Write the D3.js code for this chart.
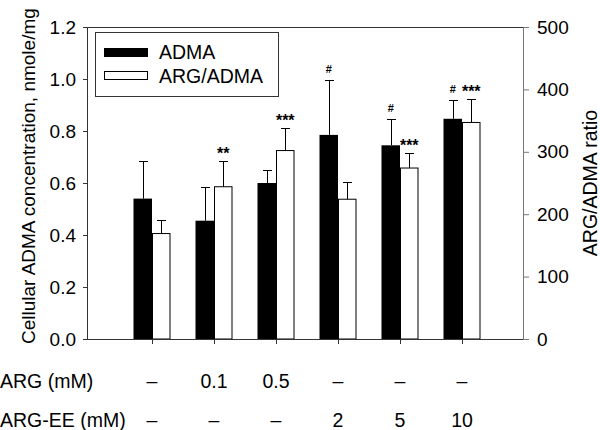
<!DOCTYPE html>
<html>
<head>
<meta charset="utf-8">
<script src="https://cdn.jsdelivr.net/npm/d3@7"></script>
<style>
  body { margin: 0; background: #fff; }
  svg { display: block; }
  text { font-family: "Liberation Sans", Arial, sans-serif; fill: #000; }
</style>
</head>
<body>
<svg id="chart" width="600" height="430"></svg>
<script>
// ---- data ----
const categories = ["Control", "ARG 0.1", "ARG 0.5", "ARG-EE 2", "ARG-EE 5", "ARG-EE 10"];
const admaMean = [0.54, 0.455, 0.60, 0.785, 0.745, 0.847];
const admaErr  = [0.145, 0.13, 0.05, 0.21, 0.10, 0.073];
const ratioMean = [169, 244, 302, 224, 274, 347];
const ratioErr  = [21, 41, 36, 27, 24, 38];
const admaSig  = ["", "", "", "#", "#", "#"];
const ratioSig = ["", "**", "***", "", "***", "***"];
const argLabels   = ["–", "0.1", "0.5", "–", "–", "–"];
const argEELabels = ["–", "–", "–", "2", "5", "10"];
const leftTicks  = [0, 0.2, 0.4, 0.6, 0.8, 1.0, 1.2];
const rightTicks = [0, 100, 200, 300, 400, 500];
const seriesNames = ["ADMA", "ARG/ADMA"];

// ---- layout ----
const L = 87, R = 523, T = 27, B = 339;
const barW = 18.5, capW = 9;
const svg = d3.select("#chart");

const x = d3.scalePoint().domain(categories).range([L + 65, R - 61]);
const yL = d3.scaleLinear().domain([0, 1.2]).range([B, T]);
const yR = d3.scaleLinear().domain([0, 500]).range([B, T]);

const rows = categories.map((c, i) => ({
  c, am: admaMean[i], ae: admaErr[i], rm: ratioMean[i], re: ratioErr[i],
  as: admaSig[i], rs: ratioSig[i]
}));

// ---- bars ----
svg.append("g").selectAll("rect").data(rows).join("rect")
  .attr("x", d => x(d.c) - barW).attr("y", d => yL(d.am))
  .attr("width", barW).attr("height", d => yL(0) - yL(d.am))
  .attr("fill", "#000");

svg.append("g").selectAll("rect").data(rows).join("rect")
  .attr("x", d => x(d.c) + 0.5).attr("y", d => yR(d.rm))
  .attr("width", barW - 1).attr("height", d => yR(0) - yR(d.rm))
  .attr("fill", "#fff").attr("stroke", "#000").attr("stroke-width", 1);

// ---- error bars ----
function errBars(cx, yTop, yVal) {
  const g = svg.append("g").attr("stroke", "#000").attr("stroke-width", 1);
  g.selectAll("line.v").data(rows).join("line")
    .attr("x1", cx).attr("x2", cx).attr("y1", yVal).attr("y2", yTop);
  g.selectAll("line.h").data(rows).join("line")
    .attr("x1", d => cx(d) - capW / 2).attr("x2", d => cx(d) + capW / 2)
    .attr("y1", yTop).attr("y2", yTop);
}
errBars(d => Math.round(x(d.c) - barW / 2) + 0.5, d => Math.round(yL(d.am + d.ae)) + 0.5, d => yL(d.am));
errBars(d => Math.round(x(d.c) + barW / 2) + 0.5, d => Math.round(yR(d.rm + d.re)) + 0.5, d => yR(d.rm));

// ---- significance marks ----
svg.append("g").selectAll("text").data(rows).join("text")
  .attr("x", d => x(d.c) - barW / 2).attr("y", d => yL(d.am + d.ae) - 7)
  .attr("text-anchor", "middle").attr("font-size", 11).attr("font-weight", "bold")
  .text(d => d.as);
svg.append("g").selectAll("text").data(rows).join("text")
  .attr("x", d => x(d.c) + barW / 2).attr("y", d => yR(d.rm + d.re) - 2)
  .attr("text-anchor", "middle").attr("font-size", 16).attr("font-weight", "bold")
  .text(d => d.rs);

// ---- frame / axes ----
const axL = svg.append("g").attr("transform", `translate(${L},0)`)
  .call(d3.axisLeft(yL).tickValues(leftTicks).tickFormat(d3.format(".1f")).tickSize(4).tickSizeOuter(0).tickPadding(7));
const axR = svg.append("g").attr("transform", `translate(${R},0)`)
  .call(d3.axisRight(yR).tickValues(rightTicks).tickSize(6).tickSizeOuter(0).tickPadding(8));
const axB = svg.append("g").attr("transform", `translate(0,${B})`)
  .call(d3.axisBottom(x).tickSize(5).tickSizeOuter(0).tickFormat(""));
[axL, axB].forEach(a => { a.selectAll("path,line").attr("stroke", "#333"); });
axR.selectAll("path,line").attr("stroke", "#777");
[axL, axR].forEach(a => a.selectAll("text").attr("font-size", 19).attr("fill", "#000")
  .style("font-family", '"Liberation Sans", Arial, sans-serif'));
axB.select("path.domain").attr("d", `M${L},0.5H${R}`);
svg.append("line").attr("x1", L).attr("x2", R).attr("y1", T + 0.5).attr("y2", T + 0.5)
  .attr("stroke", "#333");

// ---- axis titles ----
svg.append("text").attr("transform", `translate(35,344) rotate(-90)`)
  .attr("text-anchor", "start").attr("font-size", 19)
  .text("Cellular ADMA concentration, nmole/mg");
svg.append("text").attr("transform", `translate(597,183) rotate(-90)`)
  .attr("text-anchor", "middle").attr("font-size", 19.5)
  .text("ARG/ADMA ratio");

// ---- treatment rows ----
svg.append("text").attr("x", 0).attr("y", 388).attr("font-size", 19.5).text("ARG (mM)");
svg.append("text").attr("x", 0).attr("y", 427).attr("font-size", 19.5).text("ARG-EE (mM)");
svg.append("g").selectAll("text").data(categories).join("text")
  .attr("x", d => x(d)).attr("y", 388).attr("text-anchor", "middle").attr("font-size", 19.5)
  .text((d, i) => argLabels[i]);
svg.append("g").selectAll("text").data(categories).join("text")
  .attr("x", d => x(d)).attr("y", 427).attr("text-anchor", "middle").attr("font-size", 19.5)
  .text((d, i) => argEELabels[i]);

// ---- legend ----
const lg = svg.append("g");
lg.append("rect").attr("x", 95.5).attr("y", 32.5).attr("width", 183).attr("height", 64)
  .attr("fill", "#fff").attr("stroke", "#333");
const items = [{ n: seriesNames[0], fill: "#000" }, { n: seriesNames[1], fill: "#fff" }];
lg.selectAll("rect.sw").data(items).join("rect").attr("class", "sw")
  .attr("x", 104.5).attr("y", (d, i) => 48.5 + i * 23).attr("width", 43).attr("height", 8)
  .attr("fill", d => d.fill).attr("stroke", "#000");
lg.selectAll("text").data(items).join("text")
  .attr("x", 159).attr("y", (d, i) => 59 + i * 23.5).attr("font-size", 19.5)
  .text(d => d.n);
</script>
</body>
</html>
